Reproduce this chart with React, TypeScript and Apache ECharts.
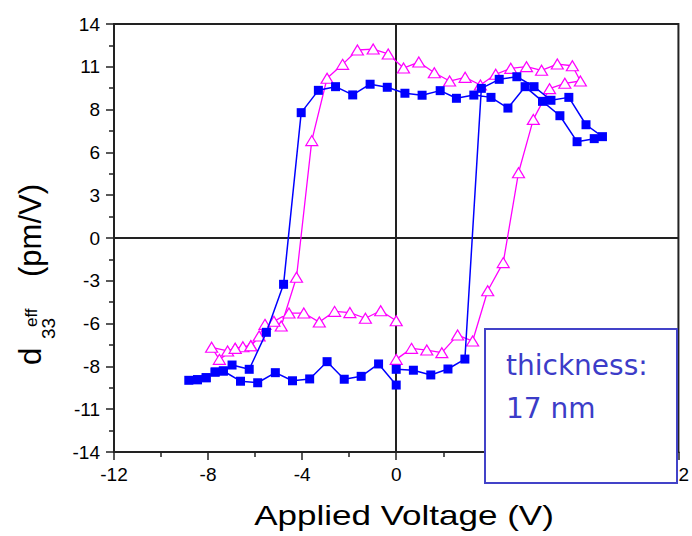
import React, { useEffect, useRef } from 'react';
import * as echarts from 'echarts';

// Blue filled squares (one hysteresis loop, measurement order)
const blueVoltage = [
  0, 0.73, 1.47, 2.2, 2.92, 3.62, 4.38, 5.13, 5.86, 6.58, 7.34, 8.07, 8.77,
  8.42, 7.69, 6.96, 6.22, 5.48, 4.75, 4.03, 3.3, 2.56, 1.87, 1.1, 0.37, -0.38,
  -1.11, -1.85, -2.58, -3.31, -4.04, -4.79, -5.52, -6.25, -6.98, -7.35, -7.7,
  -8.08, -8.45, -8.82, -8.45, -8.08, -7.7, -7.35, -6.62, -5.89, -5.14, -4.41,
  -3.68, -2.94, -2.21, -1.49, -0.75, 0,
];
const blueD33 = [
  -8.59, -8.65, -8.96, -8.57, -7.92, 9.79, 10.38, 10.55, 9.9, 9.01, 9.2, 7.41,
  6.63, 6.5, 6.3, 8.0, 8.94, 9.9, 8.5, 9.2, 9.35, 9.14, 9.64, 9.34, 9.47, 9.86,
  10.06, 9.36, 9.9, 9.66, 8.2, -3.03, -6.17, -8.59, -8.31, -8.7, -8.77, -9.14,
  -9.27, -9.31, -9.27, -9.14, -8.77, -8.7, -9.37, -9.47, -8.81, -9.34, -9.22,
  -8.09, -9.24, -9.05, -8.24, -9.62,
];

// Magenta open triangles (second loop, measurement order)
const magentaVoltage = [
  0, 0.65, 1.3, 1.94, 2.61, 3.25, 3.89, 4.55, 5.2, 5.83, 6.52, 7.17, 7.83,
  7.49, 6.85, 6.18, 5.54, 4.87, 4.23, 3.58, 2.93, 2.27, 1.62, 0.96, 0.31,
  -0.34, -0.98, -1.65, -2.28, -2.94, -3.59, -4.24, -4.89, -5.58, -5.83, -6.18,
  -6.52, -6.85, -7.17, -7.85, -7.52, -6.85, -6.18, -5.2, -4.56, -3.93, -3.27,
  -2.62, -1.97, -1.31, -0.66, 0,
];
const magentaD33 = [
  -7.94, -7.22, -7.33, -7.5, -6.35, -6.74, -3.45, -1.61, 4.27, 7.76, 9.77,
  10.12, 10.27, 11.27, 11.38, 10.97, 11.21, 11.1, 10.71, 10.01, 10.51, 10.27,
  10.81, 11.51, 11.12, 12.04, 12.36, 12.3, 11.36, 10.45, 6.37, -2.57, -5.76,
  -5.65, -6.41, -7.05, -7.11, -7.22, -7.39, -7.15, -7.94, -7.22, -7.05, -5.45,
  -4.91, -4.91, -5.5, -4.8, -4.88, -5.25, -4.76, -5.41,
];

const xMin = -12;
const xMax = 12;
const xStep = 4;
const yMin = -14;
const yMax = 14;
const yStep = 2.8;

const boxLines = ['thickness:', '17 nm'];
const xTitle = 'Applied Voltage (V)';

const AXIS_COLOR = '#222';
const LABEL_FONT = '"Liberation Sans", Arial, sans-serif';

export default function App() {
  const ref = useRef<HTMLDivElement>(null);

  useEffect(() => {
    if (!ref.current) return;
    const chart = echarts.init(ref.current, undefined, { renderer: 'svg' });

    const axisCommon = {
      axisLine: { show: true, onZero: false, lineStyle: { color: AXIS_COLOR, width: 2 } },
      axisTick: { show: true, inside: false, length: 8, lineStyle: { color: AXIS_COLOR, width: 1.5 } },
      minorTick: { show: true, splitNumber: 2, length: 5, lineStyle: { color: AXIS_COLOR, width: 1.5 } },
      splitLine: { show: false },
      minorSplitLine: { show: false },
    };

    const option: any = {
      animation: false,
      backgroundColor: '#fff',
      grid: {
        left: 114,
        top: 24,
        right: 10,
        bottom: 84,
        show: true,
        borderColor: AXIS_COLOR,
        borderWidth: 2,
        backgroundColor: 'transparent',
      },
      xAxis: {
        type: 'value',
        min: xMin,
        max: xMax,
        interval: xStep,
        ...axisCommon,
        axisLabel: {
          color: '#000',
          fontSize: 19,
          fontFamily: LABEL_FONT,
          margin: 13,
          formatter: (v: number) => String(Math.round(v)),
        },
      },
      yAxis: {
        type: 'value',
        min: yMin,
        max: yMax,
        interval: yStep,
        ...axisCommon,
        axisLabel: {
          color: '#000',
          fontSize: 19,
          fontFamily: LABEL_FONT,
          margin: 14,
          formatter: (v: number) => String(Math.round(v) === 0 ? 0 : Math.round(v)),
        },
      },
      series: [
        {
          type: 'line',
          data: magentaVoltage.map((v, i) => [v, magentaD33[i]]),
          symbol: 'triangle',
          symbolSize: [12, 10],
          lineStyle: { color: '#ff00ff', width: 1.3 },
          itemStyle: { color: '#ffffff', borderColor: '#ff00ff', borderWidth: 1.2 },
          z: 2,
          markLine: {
            silent: true,
            symbol: ['none', 'none'],
            label: { show: false },
            lineStyle: { color: AXIS_COLOR, width: 2, type: 'solid' },
            data: [{ xAxis: 0 }, { yAxis: 0 }],
            z: 1,
          },
        },
        {
          type: 'line',
          data: blueVoltage.map((v, i) => [v, blueD33[i]]),
          symbol: 'rect',
          symbolSize: 9,
          lineStyle: { color: '#0000ff', width: 1.5 },
          itemStyle: { color: '#0000ff' },
          z: 3,
        },
      ],
      graphic: [
        {
          type: 'text',
          x: 404,
          y: 525 - 0.35 * 28,
          scaleX: 1.25,
          z: 50,
          style: {
            text: xTitle,
            font: '28px "Liberation Sans", Arial, sans-serif',
            fill: '#000',
            align: 'center',
            verticalAlign: 'middle',
          },
        },
        {
          type: 'group',
          x: 41.7,
          y: 365,
          rotation: Math.PI / 2,
          z: 50,
          children: [
            {
              type: 'text',
              x: 0,
              y: -0.35 * 31,
              style: { text: 'd', font: '31px "Liberation Sans", Arial, sans-serif', fill: '#000', align: 'left', verticalAlign: 'middle' },
            },
            {
              type: 'text',
              x: 26,
              y: 13 - 0.35 * 19,
              style: { text: '33', font: '19px "Liberation Sans", Arial, sans-serif', fill: '#000', align: 'left', verticalAlign: 'middle' },
            },
            {
              type: 'text',
              x: 38,
              y: -4 - 0.35 * 17,
              style: { text: 'eff', font: '17px "Liberation Sans", Arial, sans-serif', fill: '#000', align: 'left', verticalAlign: 'middle' },
            },
            {
              type: 'text',
              x: 88,
              y: -0.35 * 31,
              style: { text: '(pm/V)', font: '31px "Liberation Sans", Arial, sans-serif', fill: '#000', align: 'left', verticalAlign: 'middle' },
            },
          ],
        },
        {
          type: 'rect',
          z: 100,
          shape: { x: 485, y: 329, width: 192, height: 154 },
          style: { fill: '#ffffff', stroke: '#4343c8', lineWidth: 2 },
        },
        ...boxLines.map((t, i) => ({
          type: 'text',
          z: 101,
          x: 506,
          y: 375 + i * 43 - 0.35 * 28,
          style: {
            text: t,
            font: '28px "DejaVu Sans", sans-serif',
            fill: '#3c3cc8',
            align: 'left',
            verticalAlign: 'middle',
          },
        })),
      ],
    };

    chart.setOption(option);
    return () => chart.dispose();
  }, []);

  return (
    <div
      ref={ref}
      style={{ position: 'fixed', left: 0, top: 0, width: 692, height: 536, background: '#fff' }}
    />
  );
}
